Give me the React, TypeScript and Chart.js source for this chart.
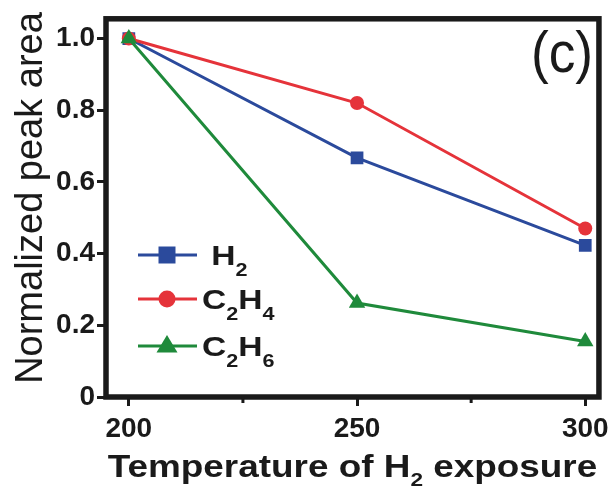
import React, { useEffect, useRef } from 'react';
import { Chart, registerables } from 'chart.js';

Chart.register(...registerables);

// ---- data ----
const temperatures = [200, 250, 300];
const h2Values = [1.0, 0.667, 0.423];
const c2h4Values = [1.0, 0.82, 0.47];
const c2h6Values = [1.0, 0.262, 0.155];
const minorXTicks = [225, 275];

type Seg = { t: string; sub?: boolean };
const legendLabels: Seg[][] = [
  [{ t: ' H' }, { t: '2', sub: true }],
  [{ t: 'C' }, { t: '2', sub: true }, { t: 'H' }, { t: '4', sub: true }],
  [{ t: 'C' }, { t: '2', sub: true }, { t: 'H' }, { t: '6', sub: true }],
];
const xTitle: Seg[] = [{ t: 'Temperature of H' }, { t: '2', sub: true }, { t: ' exposure' }];
const yTitle = 'Normalized peak area';
const panelLabel = '(c)';

const BLUE = '#2b4a9c';
const RED = '#e5333a';
const GREEN = '#1f8a3b';
const INK = '#1a1a1a';
const FONT = '"Liberation Sans", Arial, Helvetica, sans-serif';
const seriesColors = [BLUE, RED, GREEN];
const seriesShapes = ['rect', 'circle', 'triangle'];

function drawRich(
  ctx: CanvasRenderingContext2D,
  segs: Seg[],
  x: number,
  baseline: number,
  mainFont: string,
  subFont: string,
  subDrop: number,
  scaleX: number,
  align: 'left' | 'center'
) {
  ctx.save();
  ctx.textBaseline = 'alphabetic';
  ctx.textAlign = 'left';
  let total = 0;
  const widths = segs.map((s) => {
    ctx.font = s.sub ? subFont : mainFont;
    const w = ctx.measureText(s.t).width;
    total += w;
    return w;
  });
  const startX = align === 'center' ? x - (total * scaleX) / 2 : x;
  ctx.translate(startX, baseline);
  ctx.scale(scaleX, 1);
  let cx = 0;
  segs.forEach((s, i) => {
    ctx.font = s.sub ? subFont : mainFont;
    ctx.fillText(s.t, cx, s.sub ? subDrop : 0);
    cx += widths[i];
  });
  ctx.restore();
}

function drawMarker(ctx: CanvasRenderingContext2D, shape: string, x: number, y: number, color: string) {
  ctx.save();
  ctx.fillStyle = color;
  ctx.beginPath();
  if (shape === 'rect') {
    ctx.rect(x - 8.5, y - 8.5, 17, 17);
  } else if (shape === 'circle') {
    ctx.arc(x, y, 8.5, 0, Math.PI * 2);
  } else {
    ctx.moveTo(x, y - 11);
    ctx.lineTo(x + 10.5, y + 6.5);
    ctx.lineTo(x - 10.5, y + 6.5);
    ctx.closePath();
  }
  ctx.fill();
  ctx.restore();
}

const decor = {
  id: 'decor',
  afterDraw(chart: any) {
    const ctx: CanvasRenderingContext2D = chart.ctx;
    const { left, right, top, bottom } = chart.chartArea;
    const xs = chart.scales.x;
    ctx.save();
    // frame
    ctx.strokeStyle = INK;
    ctx.lineWidth = 5.5;
    ctx.strokeRect(left, top, right - left, bottom - top);
    // minor x ticks
    ctx.lineWidth = 3;
    minorXTicks.forEach((v) => {
      const px = xs.getPixelForValue(v);
      ctx.beginPath();
      ctx.moveTo(px, bottom);
      ctx.lineTo(px, bottom + 6);
      ctx.stroke();
    });
    ctx.fillStyle = INK;
    // legend
    const rows = [255, 299, 346];
    legendLabels.forEach((lab, i) => {
      const y = rows[i];
      ctx.strokeStyle = seriesColors[i];
      ctx.lineWidth = 3;
      ctx.beginPath();
      ctx.moveTo(138, y);
      ctx.lineTo(197, y);
      ctx.stroke();
      drawMarker(ctx, seriesShapes[i], 167, y, seriesColors[i]);
      ctx.fillStyle = INK;
      drawRich(ctx, lab, 202, y + 10, `bold 28px ${FONT}`, `bold 18px ${FONT}`, 11, 1.2, 'left');
    });
    // x title
    drawRich(ctx, xTitle, (left + right) / 2, 477, `bold 31px ${FONT}`, `bold 19px ${FONT}`, 9, 1.19, 'center');
    // y title
    ctx.save();
    ctx.translate(42, 198);
    ctx.rotate(-Math.PI / 2);
    ctx.font = `38px ${FONT}`;
    ctx.textAlign = 'center';
    ctx.textBaseline = 'alphabetic';
    ctx.fillText(yTitle, 0, 0);
    ctx.restore();
    // panel label
    ctx.save();
    ctx.translate(562, 72);
    ctx.scale(0.92, 1);
    ctx.font = `58px ${FONT}`;
    ctx.textAlign = 'center';
    ctx.textBaseline = 'alphabetic';
    ctx.fillText(panelLabel, 0, 0);
    ctx.restore();
    ctx.restore();
  },
};

export default function App() {
  const ref = useRef<HTMLCanvasElement>(null);
  useEffect(() => {
    const canvas = ref.current!;
    const mk = (vals: number[]) => temperatures.map((t, i) => ({ x: t, y: vals[i] }));
    const chart = new Chart(canvas, {
      type: 'line',
      data: {
        datasets: [
          {
            label: 'H2',
            data: mk(h2Values),
            borderColor: BLUE,
            backgroundColor: BLUE,
            pointStyle: 'rect',
            pointRadius: 9,
            pointBorderWidth: 0,
            borderWidth: 3,
            order: 2,
          },
          {
            label: 'C2H4',
            data: mk(c2h4Values),
            borderColor: RED,
            backgroundColor: RED,
            pointStyle: 'circle',
            pointRadius: 7,
            pointBorderWidth: 0,
            borderWidth: 3,
            order: 1,
          },
          {
            label: 'C2H6',
            data: mk(c2h6Values),
            borderColor: GREEN,
            backgroundColor: GREEN,
            pointStyle: 'triangle',
            pointRadius: 9.5,
            pointBorderWidth: 0,
            borderWidth: 3,
            order: 0,
          },
        ],
      },
      options: {
        responsive: false,
        animation: false,
        devicePixelRatio: 1,
        layout: { padding: { left: 0, right: 14, top: 15, bottom: 0 } },
        plugins: { legend: { display: false }, tooltip: { enabled: false } },
        scales: {
          x: {
            type: 'linear',
            min: 195,
            max: 303,
            ticks: {
              stepSize: 50,
              includeBounds: false,
              color: INK,
              padding: 6,
              font: { family: FONT, size: 28, weight: 'bold' },
              callback: (v: any) => String(v),
            },
            grid: { drawOnChartArea: false, drawTicks: true, tickLength: 9, lineWidth: 3, color: INK },
            border: { display: false },
            afterFit: (s: any) => {
              s.height = 95;
            },
          },
          y: {
            type: 'linear',
            min: 0,
            max: 1.055,
            ticks: {
              stepSize: 0.2,
              includeBounds: false,
              color: INK,
              padding: 2,
              font: { family: FONT, size: 28, weight: 'bold' },
              callback: (v: any) => (Math.abs(v) < 1e-9 ? '0' : Number(v).toFixed(1)),
            },
            grid: { drawOnChartArea: false, drawTicks: true, tickLength: 9, lineWidth: 3, color: INK },
            border: { display: false },
            afterFit: (s: any) => {
              s.width = 106;
            },
          },
        },
      },
      plugins: [decor],
    } as any);
    return () => chart.destroy();
  }, []);
  return (
    <div style={{ position: 'absolute', left: 0, top: 0, width: 615, height: 492, background: '#fff' }}>
      <canvas ref={ref} width={615} height={492} style={{ display: 'block', width: 615, height: 492 }} />
    </div>
  );
}
